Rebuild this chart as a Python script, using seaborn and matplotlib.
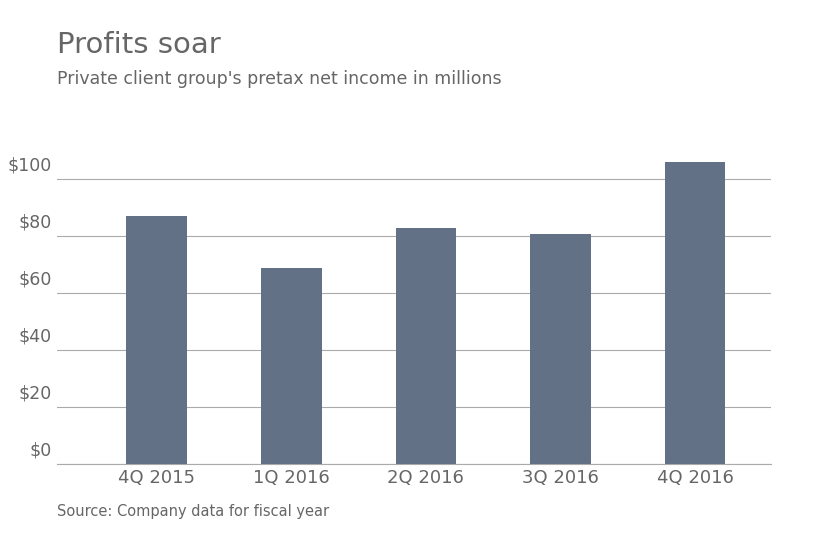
import matplotlib
matplotlib.use("Agg")
import matplotlib.pyplot as plt
import seaborn as sns
import pandas as pd

quarters = ["4Q 2015", "1Q 2016", "2Q 2016", "3Q 2016", "4Q 2016"]
income = [87, 68.8, 82.8, 80.7, 106]
yticks = [0, 20, 40, 60, 80, 100]

text_color = "#666666"
bar_color = "#627185"

df = pd.DataFrame({"quarter": quarters, "income": income})

fig = plt.figure(figsize=(8.4, 5.47), dpi=100)
ax = fig.add_axes([0.068, 0.152, 0.850, 0.573])
sns.barplot(data=df, x="quarter", y="income", color=bar_color, width=0.45,
            saturation=1, ax=ax, zorder=3)

ax.set_xlim(-0.74, 4.565)
ax.set_ylim(0, 110)
ax.set_yticks(yticks)
ax.set_yticklabels([])
ax.grid(axis="y", color="#aaaaaa", linewidth=0.8, zorder=0)
for t in yticks:
    ax.text(-0.78, t + 1.5, f"${t}", ha="right", va="bottom", fontsize=12.5,
            color=text_color, transform=ax.transData)
ax.tick_params(axis="both", length=0)
ax.tick_params(axis="x", labelsize=13, labelcolor=text_color, pad=4)
ax.set_xlabel("")
ax.set_ylabel("")
for s in ["top", "right", "left"]:
    ax.spines[s].set_visible(False)
ax.spines["bottom"].set_color("#aaaaaa")

fig.text(0.068, 0.918, "Profits soar", fontsize=21, color=text_color, va="center")
fig.text(0.068, 0.855, "Private client group's pretax net income in millions",
         fontsize=12.5, color=text_color, va="center")
fig.text(0.068, 0.064, "Source: Company data for fiscal year", fontsize=10.5,
         color=text_color, va="center")

fig.savefig("out.png", dpi=100)
